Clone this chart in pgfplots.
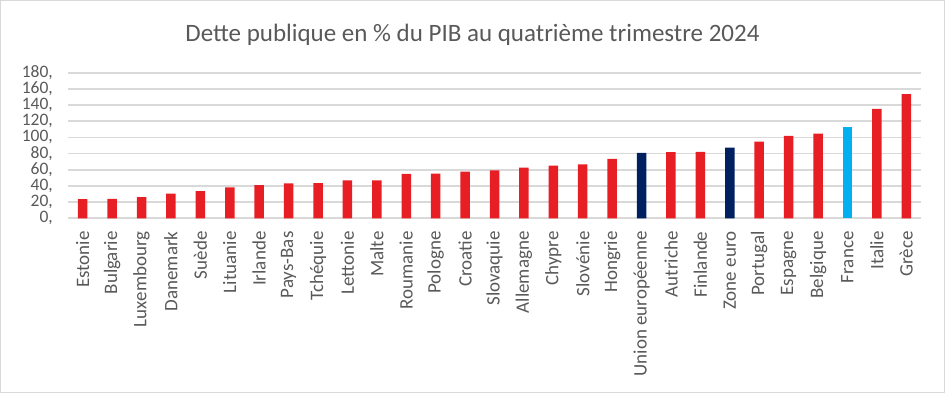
\documentclass[border=0pt]{standalone}
\usepackage{pgfplots}
\pgfplotsset{compat=1.18}
\usepackage{fontspec}
\setmainfont{Carlito}
\definecolor{txt}{HTML}{595959}
\definecolor{grid}{HTML}{D9D9D9}
\definecolor{rouge}{HTML}{E81E25}
\definecolor{marine}{HTML}{002060}
\definecolor{ciel}{HTML}{00B0F0}
\begin{document}
\begin{tikzpicture}
\begin{axis}[
  name=ax,
  scale only axis,
  width=853pt, height=145.6pt,
  xmin=-0.5, xmax=28.5,
  ymin=0, ymax=180,
  ytick={0,20,...,180},
  yticklabel={\pgfmathprintnumber[assume math mode=true]{\tick},},
  xtick={0,...,28},
  xticklabels={Estonie,Bulgarie,Luxembourg,Danemark,Suède,Lituanie,Irlande,Pays-Bas,Tchéquie,Lettonie,Malte,Roumanie,Pologne,Croatie,Slovaquie,Allemagne,Chypre,Slovénie,Hongrie,Union européenne,Autriche,Finlande,Zone euro,Portugal,Espagne,Belgique,France,Italie,Grèce},
  x tick label style={rotate=90, anchor=east, font=\fontsize{19}{20}\selectfont, text=txt, inner sep=0pt},
  xticklabel shift=13pt,
  y tick label style={font=\fontsize{17.5}{18}\selectfont, text=txt, inner sep=0pt},
  yticklabel shift=15pt,
  major tick length=0pt,
  axis line style={draw=none},
  ymajorgrids,
  grid style={draw=grid, line width=1.8pt},
  clip=false,
]
\addplot[ybar, bar width=9.5pt, bar shift=0pt, fill=rouge, draw=none] coordinates {
(0,23.6) (1,24.1) (2,26.3) (3,30.5) (4,33.5) (5,38.2) (6,40.9) (7,43.3) (8,43.6)
(9,46.8) (10,46.9) (11,54.8) (12,55.3) (13,57.6) (14,59.3) (15,62.5) (16,65.0)
(17,66.6) (18,73.5) (20,81.8) (21,82.1) (23,94.9) (24,101.8) (25,104.7)
(27,135.3) (28,153.6)};
\addplot[ybar, bar width=9.5pt, bar shift=0pt, fill=marine, draw=none] coordinates {
(19,81.0) (22,87.4)};
\addplot[ybar, bar width=9.5pt, bar shift=0pt, fill=ciel, draw=none] coordinates {
(26,113.2)};
\end{axis}
\draw[grid, line width=1pt] ([shift={(-67.5pt,-174.2pt)}]ax.south west) rectangle ([shift={(876.5pt,217.8pt)}]ax.south west);
\node[text=txt, font=\fontsize{25}{27}\selectfont] at ([shift={(404.5pt,183.3pt)}]ax.south west) {Dette publique en \% du PIB au quatrième trimestre 2024};
\end{tikzpicture}
\end{document}
